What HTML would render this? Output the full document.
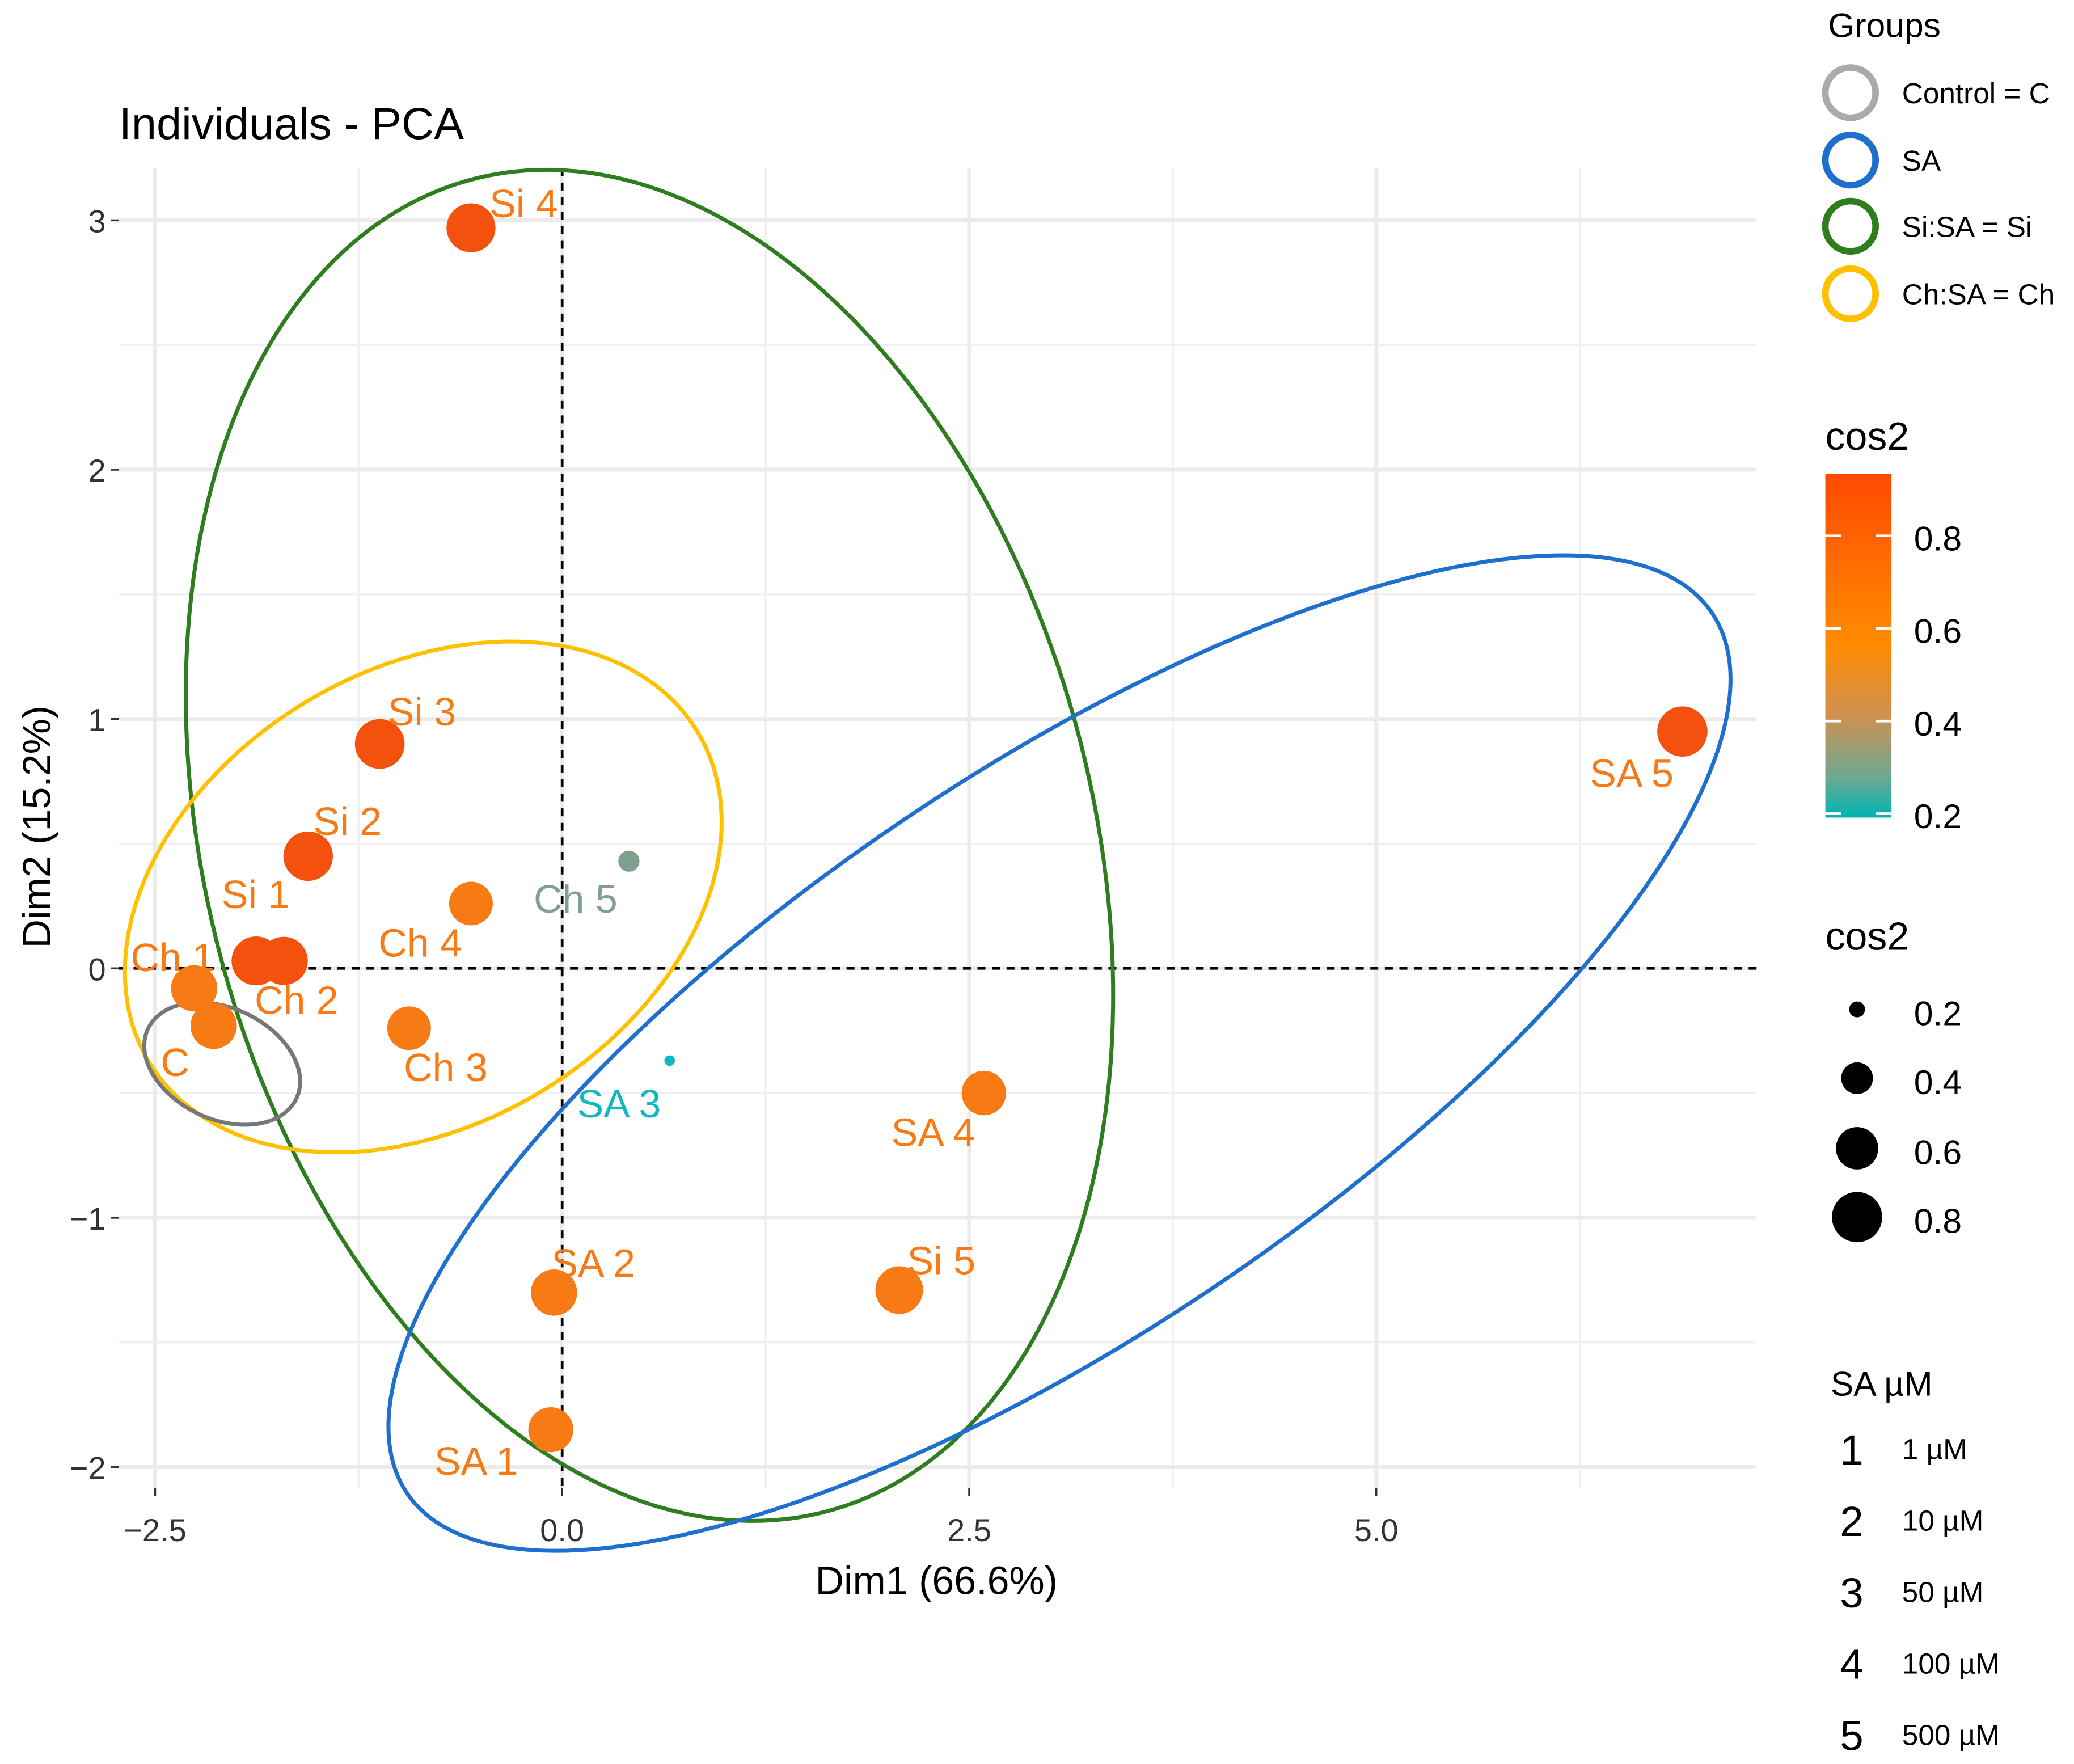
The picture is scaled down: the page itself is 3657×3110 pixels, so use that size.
<!DOCTYPE html>
<html><head><meta charset="utf-8"><style>
html,body{margin:0;padding:0;background:#fff}
svg{display:block}
text{font-family:"Liberation Sans",sans-serif}
</style></head><body>
<svg id="chart" xmlns="http://www.w3.org/2000/svg" width="3657" height="3110" viewBox="0 0 1568 1333.4">
<defs>
<linearGradient id="cg" x1="0" y1="0" x2="0" y2="1">
<stop offset="0" stop-color="#FF4A00"/><stop offset="0.5" stop-color="#FF8C00"/><stop offset="0.7" stop-color="#D09050"/><stop offset="0.88" stop-color="#70A890"/><stop offset="1" stop-color="#00B4B4"/>
</linearGradient>
</defs>
<text x="90" y="105" font-size="34" fill="#000">Individuals - PCA</text>
<g id="grid"></g>
<g id="ellipses">
<ellipse cx="491" cy="639" rx="335" ry="521" transform="rotate(-15 491 639)" fill="none" stroke="#2E7D1F" stroke-width="3"/>
<ellipse cx="801" cy="796" rx="595" ry="212" transform="rotate(-34 801 796)" fill="none" stroke="#1F6FCF" stroke-width="3"/>
<ellipse cx="320" cy="678" rx="242" ry="172" transform="rotate(-31 320 678)" fill="none" stroke="#FFC000" stroke-width="3"/>
<ellipse cx="168" cy="804" rx="62" ry="42" transform="rotate(25 168 804)" fill="none" stroke="#777" stroke-width="3"/>
</g>
<g id="pts"></g>
<text x="708" y="1205" font-size="30" text-anchor="middle" fill="#000">Dim1 (66.6%)</text>
<text x="0" y="0" font-size="30" text-anchor="middle" fill="#000" transform="translate(38 625) rotate(-90)">Dim2 (15.2%)</text>
<g font-size="22">
<text x="1382" y="28" font-size="26">Groups</text>
<circle cx="1399" cy="70" r="19" fill="none" stroke="#AAAAAA" stroke-width="5"/>
<text x="1438" y="78">Control = C</text>
<circle cx="1399" cy="121" r="19" fill="none" stroke="#1F6FCF" stroke-width="5"/>
<text x="1438" y="129">SA</text>
<circle cx="1399" cy="171" r="19" fill="none" stroke="#2E7D1F" stroke-width="5"/>
<text x="1438" y="179">Si:SA = Si</text>
<circle cx="1399" cy="222" r="19" fill="none" stroke="#FFC000" stroke-width="5"/>
<text x="1438" y="230">Ch:SA = Ch</text>
</g>
<g font-size="26">
<text x="1380" y="340" font-size="30">cos2</text>
<rect x="1380" y="358" width="50" height="260" fill="url(#cg)"/>
<g stroke="#fff" stroke-width="2">
<line x1="1380" y1="405" x2="1392" y2="405"/><line x1="1418" y1="405" x2="1430" y2="405"/>
<line x1="1380" y1="475" x2="1392" y2="475"/><line x1="1418" y1="475" x2="1430" y2="475"/>
<line x1="1380" y1="545" x2="1392" y2="545"/><line x1="1418" y1="545" x2="1430" y2="545"/>
<line x1="1380" y1="615" x2="1392" y2="615"/><line x1="1418" y1="615" x2="1430" y2="615"/>
</g>
<text x="1447" y="416">0.8</text><text x="1447" y="486">0.6</text><text x="1447" y="556">0.4</text><text x="1447" y="626">0.2</text>
</g>
<g font-size="26">
<text x="1380" y="718" font-size="30">cos2</text>
<circle cx="1404" cy="763" r="6"/><circle cx="1404" cy="815" r="12"/><circle cx="1404" cy="868" r="16"/><circle cx="1404" cy="920" r="19"/>
<text x="1447" y="775">0.2</text><text x="1447" y="827">0.4</text><text x="1447" y="880">0.6</text><text x="1447" y="932">0.8</text>
</g>
<g>
<text x="1384" y="1055" font-size="26">SA µM</text>
<g font-size="32"><text x="1391" y="1107">1</text><text x="1391" y="1161">2</text><text x="1391" y="1215">3</text><text x="1391" y="1269">4</text><text x="1391" y="1323">5</text></g>
<g font-size="22"><text x="1438" y="1103">1 µM</text><text x="1438" y="1157">10 µM</text><text x="1438" y="1211">50 µM</text><text x="1438" y="1265">100 µM</text><text x="1438" y="1319">500 µM</text></g>
</g>
</svg>
<script>
const labels=["Si 4","Si 3","Si 2","Si 1","Ch 2","Ch 1","C","Ch 4","Ch 3","Ch 5","SA 3","SA 4","SA 2","SA 1","Si 5","SA 5"];
const dim1=[-0.56,-1.12,-1.56,-1.88,-1.71,-2.26,-2.14,-0.56,-0.94,0.41,0.66,2.59,-0.05,-0.07,2.07,6.88];
const dim2=[2.97,0.90,0.45,0.03,0.03,-0.08,-0.23,0.26,-0.24,0.43,-0.37,-0.50,-1.30,-1.85,-1.29,0.95];
const cos2=[0.85,0.88,0.87,0.85,0.82,0.75,0.75,0.65,0.65,0.32,0.2,0.68,0.75,0.7,0.8,0.9];
const labelDx=[14,6,4,-26,-22,-48,-40,-70,-4,-72,-70,-70,-2,-88,6,-70];
const labelDy=[-8,-14,-16,-40,40,-13,38,40,40,39,43,40,-12,34,-12,42];
const xTicks=[-2.5,0,2.5,5];
const xTickLabels=["\u22122.5","0.0","2.5","5.0"];
const yTicks=[-2,-1,0,1,2,3];
const yTickLabels=["\u22122","\u22121","0","1","2","3"];
const NS="http://www.w3.org/2000/svg";
const X=v=>425+v*123.1, Y=v=>732-v*188.5;
const L=90,R=1328,T=127,B=1125;
function mk(p,tag,a){const e=document.createElementNS(NS,tag);for(const k in a)e.setAttribute(k,a[k]);p.appendChild(e);return e;}
const g=document.getElementById('grid');
[-1.25,1.25,3.75,6.25].forEach(v=>{const l=mk(g,'line',{x1:X(v),x2:X(v),y1:T,y2:B,stroke:'#F0F0F0','stroke-width':1.5});});
[-1.5,-0.5,0.5,1.5,2.5].forEach(v=>{const l=mk(g,'line',{x1:L,x2:R,y1:Y(v),y2:Y(v),stroke:'#F0F0F0','stroke-width':1.5});});
xTicks.forEach((v,i)=>{const l=mk(g,'line',{x1:X(v),x2:X(v),y1:T,y2:B,stroke:'#EBEBEB','stroke-width':3});
mk(g,'line',{x1:X(v),x2:X(v),y1:B,y2:B+6,stroke:'#333','stroke-width':1.5});
const t=mk(g,'text',{x:X(v),y:1165,'font-size':24,'text-anchor':'middle',fill:'#333'});t.textContent=xTickLabels[i];});
yTicks.forEach((v,i)=>{const l=mk(g,'line',{x1:L,x2:R,y1:Y(v),y2:Y(v),stroke:'#EBEBEB','stroke-width':3});
mk(g,'line',{x1:L-6,x2:L,y1:Y(v),y2:Y(v),stroke:'#333','stroke-width':1.5});
const t=mk(g,'text',{x:L-10,y:Y(v)+9,'font-size':24,'text-anchor':'end',fill:'#333'});t.textContent=yTickLabels[i];});
mk(g,'line',{x1:X(0),x2:X(0),y1:T,y2:B,stroke:'#000','stroke-width':2,'stroke-dasharray':'6,5'});
mk(g,'line',{x1:L,x2:R,y1:Y(0),y2:Y(0),stroke:'#000','stroke-width':2,'stroke-dasharray':'6,5'});
function col(c){if(c>0.8)return '#F4500E';if(c>0.6)return '#F77A15';if(c>0.3)return '#7FA090';return '#10B8C0';}
function rad(c){if(c<0.25)return 4;if(c<0.4)return 8;return 10+c*10;}
const pg=document.getElementById('pts');
labels.forEach((lab,i)=>{const c=mk(pg,'circle',{cx:X(dim1[i]),cy:Y(dim2[i]),r:rad(cos2[i]),fill:col(cos2[i])});


const t=mk(pg,'text',{x:X(dim1[i])+labelDx[i],y:Y(dim2[i])+labelDy[i],'font-size':30,fill:cos2[i]<0.25?'#10B8C0':(cos2[i]<0.4?'#7FA090':'#F77A15')});t.textContent=lab;

});
</script>
</body></html>
